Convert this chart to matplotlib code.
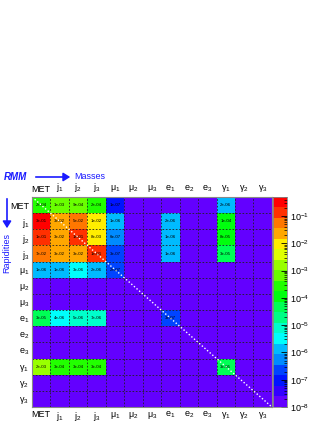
import colorsys
import numpy as np
import matplotlib
matplotlib.use("Agg")
import matplotlib.pyplot as plt
from matplotlib.colors import ListedColormap, LogNorm
from matplotlib.ticker import LogLocator, NullFormatter

plt.rcParams['font.family'] = ['Liberation Sans', 'DejaVu Sans']
plt.rcParams['mathtext.fontset'] = 'custom'
plt.rcParams['mathtext.rm'] = 'Liberation Sans'
plt.rcParams['mathtext.it'] = 'Liberation Sans:italic'

# objects of the rapidity-mass matrix
names = ["MET", "j1", "j2", "j3", "mu1", "mu2", "mu3",
         "e1", "e2", "e3", "g1", "g2", "g3"]
tick_labels = ["MET", r"$\mathrm{j}_1$", r"$\mathrm{j}_2$", r"$\mathrm{j}_3$",
               r"$\mathrm{μ}_1$", r"$\mathrm{μ}_2$", r"$\mathrm{μ}_3$",
               r"$\mathrm{e}_1$", r"$\mathrm{e}_2$", r"$\mathrm{e}_3$",
               r"$\mathrm{γ}_1$", r"$\mathrm{γ}_2$", r"$\mathrm{γ}_3$"]

# non-zero cells, one dict per row (column name -> value)
row_MET = {"MET": 2e-4, "j1": 1e-3, "j2": 9e-4, "j3": 2e-4, "mu1": 1e-7, "g1": 2e-6}
row_j1 = {"MET": 3e-1, "j1": 3e-2, "j2": 5e-2, "j3": 1e-2, "mu1": 1e-6, "e1": 2e-6, "g1": 1e-4}
row_j2 = {"MET": 1e-1, "j1": 3e-2, "j2": 1e-1, "j3": 8e-3, "mu1": 6e-7, "e1": 1e-6, "g1": 8e-5}
row_j3 = {"MET": 7e-2, "j1": 3e-2, "j2": 3e-2, "j3": 1e-1, "mu1": 3e-7, "e1": 1e-6, "g1": 3e-5}
row_mu1 = {"MET": 1e-6, "j1": 1e-6, "j2": 3e-6, "j3": 2e-6, "mu1": 2e-7}
row_e1 = {"MET": 3e-5, "j1": 4e-6, "j2": 5e-6, "j3": 7e-6, "e1": 3e-7}
row_g1 = {"MET": 2e-3, "j1": 3e-4, "j2": 3e-4, "j3": 3e-4, "g1": 3e-5}

rows = {"MET": row_MET, "j1": row_j1, "j2": row_j2, "j3": row_j3,
        "mu1": row_mu1, "e1": row_e1, "g1": row_g1}

zmin, zmax = 1e-8, 0.5

n = len(names)
matrix = np.zeros((n, n))
for r, cells in rows.items():
    for c, v in cells.items():
        matrix[names.index(r), names.index(c)] = v

# old ROOT "pretty palette" (HLS violet -> red), 20 contour levels
pretty = []
for i in range(49):
    hue = 280 - (i + 1) * (280 / 50)
    pretty.append(colorsys.hls_to_rgb(hue / 360, 0.5, 1.0))
pretty.append((1.0, 0.0, 0.0))
ncont = 20
cols = [pretty[min(int((k + 0.99) * 50 / ncont), 49)] for k in range(ncont)]
cmap = ListedColormap(cols)

fig = plt.figure(figsize=(3.32, 4.30), dpi=100)
ax = fig.add_axes([0.0964, 0.0535, 0.7226, 0.4884])
cax = fig.add_axes([0.822, 0.0535, 0.043, 0.4884])

shown = np.where(matrix > 0, matrix, zmin)
mesh = ax.pcolormesh(np.arange(n + 1), np.arange(n + 1), shown,
                     cmap=cmap, norm=LogNorm(vmin=zmin, vmax=zmax))
ax.set_xlim(0, n)
ax.set_ylim(n, 0)

# grid
for k in range(1, n):
    ax.axvline(k, color='#222222', lw=0.6, ls=(0, (2, 2)))
    ax.axhline(k, color='#222222', lw=0.6, ls=(0, (2, 2)))

# diagonal
ax.plot([0, n], [0, n], color='white', lw=1.0, ls=(0, (1, 1.5)))

# values in cells
for i in range(n):
    for j in range(n):
        if matrix[i, j] > 0:
            ax.text(j + 0.5, i + 0.5, f"{matrix[i, j]:.0e}", ha='center',
                    va='center', fontsize=3.2, color='black')

centers = np.arange(n) + 0.5
ax.set_xticks(centers)
ax.set_xticklabels(tick_labels, fontsize=6.5)
ax.set_yticks(centers)
ax.set_yticklabels(tick_labels, fontsize=6.5)
ax.tick_params(length=0, pad=2, labeltop=True, labelbottom=True)
ax.tick_params(axis='x', which='both', bottom=False, top=False)
for lab in ax.get_xticklabels(which='major'):
    pass
for s in ax.spines.values():
    s.set_color('#888888')
    s.set_linewidth(0.8)

cb = fig.colorbar(mesh, cax=cax)
cb.outline.set_edgecolor('#888888')
cb.outline.set_linewidth(0.6)
cb.set_ticks([10.0 ** -k for k in range(1, 9)])
cb.ax.yaxis.set_minor_locator(LogLocator(base=10, subs=np.arange(2, 10)))
cb.ax.yaxis.set_minor_formatter(NullFormatter())
cb.ax.tick_params(which='major', labelsize=6.5, direction='in', length=4,
                  width=0.6, pad=2)
cb.ax.tick_params(which='minor', direction='in', length=2, width=0.5)

# RMM header
blue = '#1a1aff'
yh = 1 - 177 / 430
fig.text(0.012, yh, "RMM", color=blue, fontsize=7, fontweight='bold',
         fontstyle='italic', va='center', ha='left')
fig.add_artist(matplotlib.patches.FancyArrowPatch(
    (33 / 332, yh), (73 / 332, yh),
    transform=fig.transFigure, arrowstyle='-|>,head_length=4,head_width=2.5',
    color=blue, lw=1.2))
fig.text(74 / 332, yh, "Masses", color=blue, fontsize=6.5,
         va='center', ha='left')
fig.add_artist(matplotlib.patches.FancyArrowPatch(
    (7 / 332, 1 - 196 / 430), (7 / 332, 1 - 231 / 430),
    transform=fig.transFigure, arrowstyle='-|>,head_length=4,head_width=2.5',
    color=blue, lw=1.2))
fig.text(7 / 332, 1 - 253 / 430, "Rapidities", color=blue, fontsize=6.5,
         rotation=90, va='center', ha='center')

fig.savefig("out.png", dpi=100)
